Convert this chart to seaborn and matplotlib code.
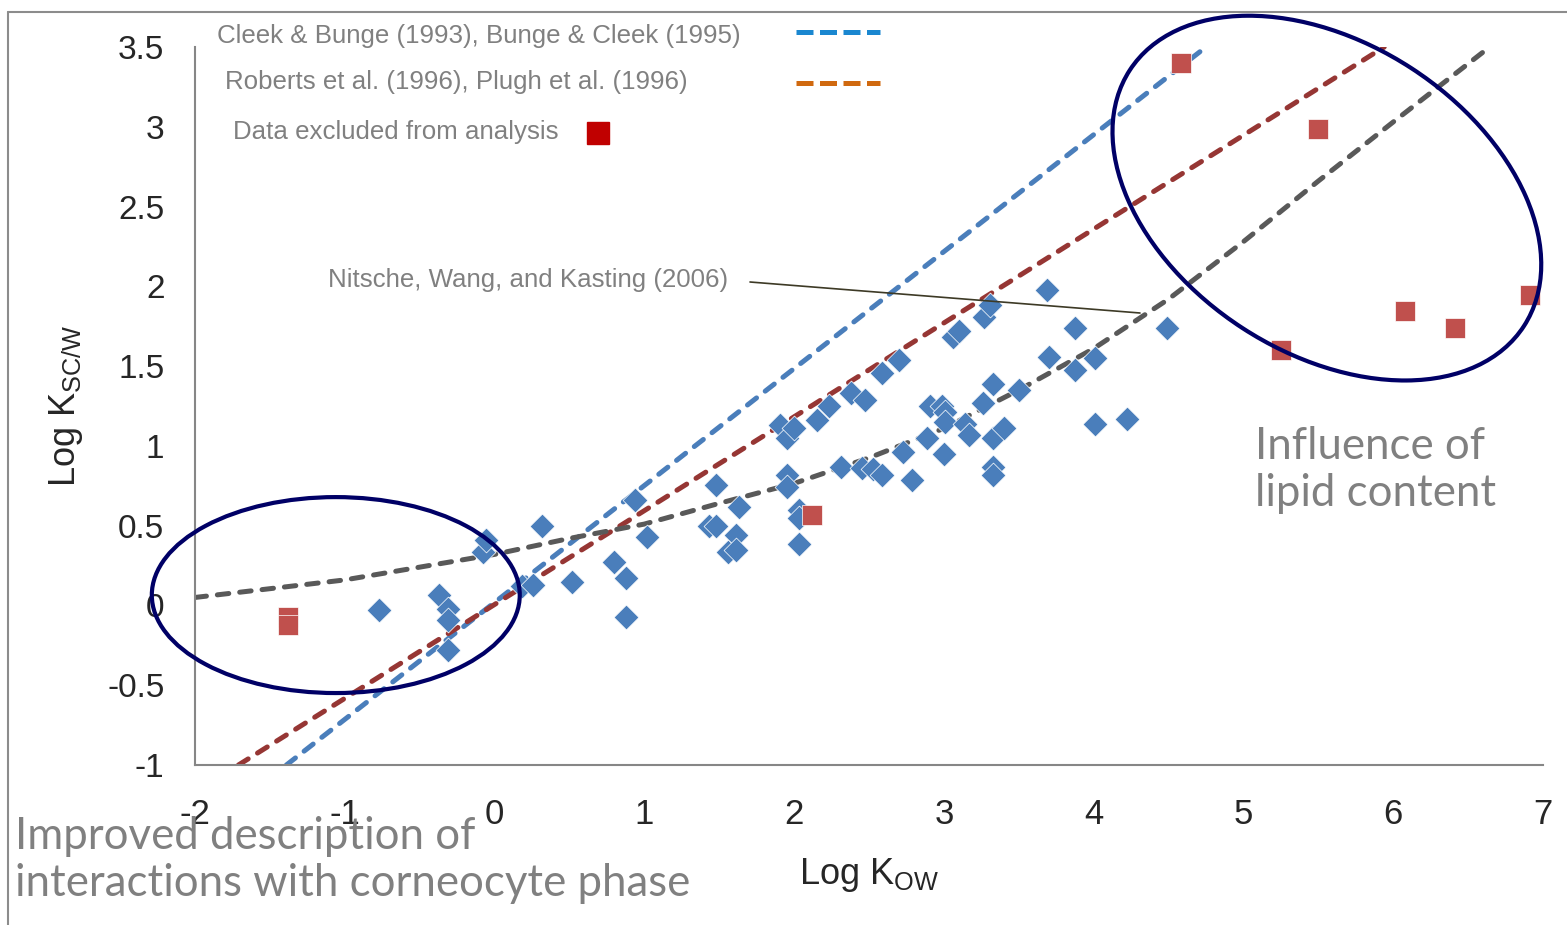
import numpy as np
import pandas as pd
import seaborn as sns
import matplotlib.pyplot as plt
from matplotlib.patches import Ellipse
from matplotlib.lines import Line2D
from matplotlib.transforms import Affine2D

# measured compounds (log Kow, log Ksc/w)
log_kow = [-0.77, -0.37, -0.31, -0.31, -0.31, -0.08, -0.06, 0.18, 0.26, 0.32,
           0.52, 0.80, 0.88, 0.88, 0.94, 1.02, 1.43, 1.48, 1.48, 1.56,
           1.61, 1.61, 1.63, 1.905, 1.95, 1.95, 1.95, 2.0, 2.03, 2.03,
           2.03, 2.15, 2.23, 2.31, 2.38, 2.45, 2.47, 2.53, 2.59, 2.59,
           2.70, 2.73, 2.79, 2.89, 2.91, 2.99, 3.01, 3.01, 3.0, 3.06,
           3.10, 3.14, 3.17, 3.26, 3.27, 3.31, 3.33, 3.33, 3.33, 3.33,
           3.40, 3.50, 3.69, 3.70, 3.875, 3.875, 4.01, 4.01, 4.22, 4.49]
log_ksc = [-0.03, 0.065, -0.02, -0.09, -0.28, 0.335, 0.41, 0.12, 0.13, 0.50,
           0.15, 0.27, 0.17, -0.07, 0.66, 0.43, 0.50, 0.755, 0.50, 0.335,
           0.44, 0.35, 0.62, 1.13, 1.05, 0.82, 0.74, 1.11, 0.60, 0.55,
           0.385, 1.16, 1.25, 0.87, 1.33, 0.86, 1.29, 0.855, 0.82, 1.456,
           1.54, 0.96, 0.786, 1.05, 1.25, 1.25, 1.21, 1.15, 0.95, 1.68,
           1.72, 1.14, 1.07, 1.27, 1.81, 1.88, 1.39, 1.05, 0.87, 0.82,
           1.11, 1.35, 1.98, 1.56, 1.74, 1.475, 1.55, 1.136, 1.17, 1.74]

# excluded data
excl_kow = [-1.38, -1.38, 2.12, 4.58, 5.50, 5.25, 6.08, 6.41, 6.91]
excl_ksc = [-0.07, -0.12, 0.566, 3.40, 2.985, 1.60, 1.845, 1.74, 1.945]

# model lines
cleek_x = [-1.39, 4.75]
cleek_y = [-1.0, 3.5]
roberts_x = [-1.71, 5.94]
roberts_y = [-1.0, 3.5]
nitsche_x = [-2, -1, 0, 0.5, 1, 1.5, 2, 2.5, 3, 3.5, 4, 4.5, 5, 5.5, 6, 6.63]
nitsche_y = [0.05, 0.16, 0.32, 0.42, 0.51, 0.64, 0.765, 0.925, 1.11, 1.35,
             1.61, 1.92, 2.28, 2.66, 3.03, 3.49]

GRAY_TXT = "#808080"
W, H = 1567, 925


def px_ellipse(ax, cx, cy, a, b, angle):
    # ellipse sized in screen pixels, centred on a data point
    tr = Affine2D().scale(1 / 149.8, 1 / 159.6).translate(cx, cy) + ax.transData
    e = Ellipse((0, 0), 2 * a, 2 * b, angle=angle, transform=tr, fill=False,
                edgecolor="#000066", linewidth=3.0, zorder=10, clip_on=False)
    ax.add_patch(e)


def main():
    sns.set_style("white")
    plt.rcParams["font.family"] = ["Liberation Sans", "DejaVu Sans"]
    plt.rcParams["mathtext.default"] = "regular"
    plt.rcParams["axes.unicode_minus"] = False

    fig = plt.figure(figsize=(W / 100, H / 100), dpi=100)
    ax = fig.add_axes([195 / W, 1 - 765 / H, (1543 - 195) / W, (765 - 47) / H])

    dash = (0, (2.3, 2.2))
    kw = dict(linewidth=3.6, dash_capstyle="round", sort=False, estimator=None, zorder=2)
    sns.lineplot(x=cleek_x, y=cleek_y, color="#4a7ebb", linestyle=dash, ax=ax, **kw)
    sns.lineplot(x=roberts_x, y=roberts_y, color="#963634", linestyle=dash, ax=ax, **kw)
    sns.lineplot(x=nitsche_x, y=nitsche_y, color="#595959", linestyle=dash, ax=ax, **kw)

    pts = pd.DataFrame({"kow": log_kow, "ksc": log_ksc})
    sns.scatterplot(data=pts, x="kow", y="ksc", marker="D", s=160, color="#4a7ebb",
                    edgecolor="white", linewidth=0.5, ax=ax, zorder=3)
    ex = pd.DataFrame({"kow": excl_kow, "ksc": excl_ksc})
    sns.scatterplot(data=ex, x="kow", y="ksc", marker="s", s=200, color="#c0504d",
                    edgecolor="white", linewidth=0.5, ax=ax, zorder=4, clip_on=False)

    px_ellipse(ax, 5.557, 2.553, 235, 155, -33)
    px_ellipse(ax, -1.06, 0.065, 184, 98, 0)

    ax.set_xlim(-2, 7)
    ax.set_ylim(-1, 3.5)
    ax.set_xticks(range(-2, 8))
    ax.set_yticks(np.arange(-1, 3.51, 0.5))
    ax.set_yticklabels(["-1", "-0.5", "0", "0.5", "1", "1.5", "2", "2.5", "3", "3.5"])
    for s in ["top", "right"]:
        ax.spines[s].set_visible(False)
    for s in ["left", "bottom"]:
        ax.spines[s].set_color("#868686")
        ax.spines[s].set_linewidth(1.5)
    ax.tick_params(axis="both", direction="out", length=8, width=1.5, color="#868686")
    ax.tick_params(axis="y", labelsize=24, pad=14)
    ax.tick_params(axis="x", labelsize=25, pad=16)
    ax.set_xlabel("Log K$_{OW}$", fontsize=26, labelpad=18)
    ax.set_ylabel("Log K$_{SC/W}$", fontsize=26, labelpad=16)

    # legend-like labels at the top
    fig.text(217 / W, 1 - 36 / H, "Cleek & Bunge (1993), Bunge & Cleek (1995)",
             color=GRAY_TXT, fontsize=18.6, va="center")
    fig.text(225 / W, 1 - 82 / H, "Roberts et al. (1996), Plugh et al. (1996)",
             color=GRAY_TXT, fontsize=18.6, va="center")
    fig.text(233 / W, 1 - 132 / H, "Data excluded from analysis",
             color=GRAY_TXT, fontsize=18.6, va="center")
    fig.add_artist(Line2D([796 / W, 880 / W], [1 - 32 / H] * 2, color="#1a87d0",
                          linewidth=3.6, linestyle=(0, (3.4, 1.3)), transform=fig.transFigure))
    fig.add_artist(Line2D([796 / W, 880 / W], [1 - 83 / H] * 2, color="#d0690f",
                          linewidth=3.6, linestyle=(0, (3.4, 1.3)), transform=fig.transFigure))
    fig.add_artist(Line2D([598 / W], [1 - 133 / H], marker="s", markersize=16,
                          color="#c00000", linestyle="none", transform=fig.transFigure))

    # Nitsche label and leader
    fig.text(328 / W, 1 - 280 / H, "Nitsche, Wang, and Kasting (2006)",
             color=GRAY_TXT, fontsize=18.6, va="center")
    fig.add_artist(Line2D([750 / W, 1140 / W], [1 - 282 / H, 1 - 313 / H],
                          color="#3d3a26", linewidth=1.2, transform=fig.transFigure))

    fig.text(1255 / W, 1 - 470 / H, "Influence of\nlipid content", color=GRAY_TXT,
             fontsize=31.5, va="center", linespacing=1.2, family=["Lato", "DejaVu Sans"])
    fig.text(15 / W, 1 - 860 / H, "Improved description of\ninteractions with corneocyte phase",
             color=GRAY_TXT, fontsize=31.5, va="center", linespacing=1.2,
             family=["Lato", "DejaVu Sans"])

    # outer frame
    fig.add_artist(Line2D([8 / W, 8 / W], [0, 1 - 12 / H], color="#8c8c8c",
                          linewidth=1.5, transform=fig.transFigure))
    fig.add_artist(Line2D([8 / W, 1], [1 - 12 / H] * 2, color="#8c8c8c",
                          linewidth=1.5, transform=fig.transFigure))

    fig.savefig("out.png", dpi=100)


if __name__ == "__main__":
    main()
